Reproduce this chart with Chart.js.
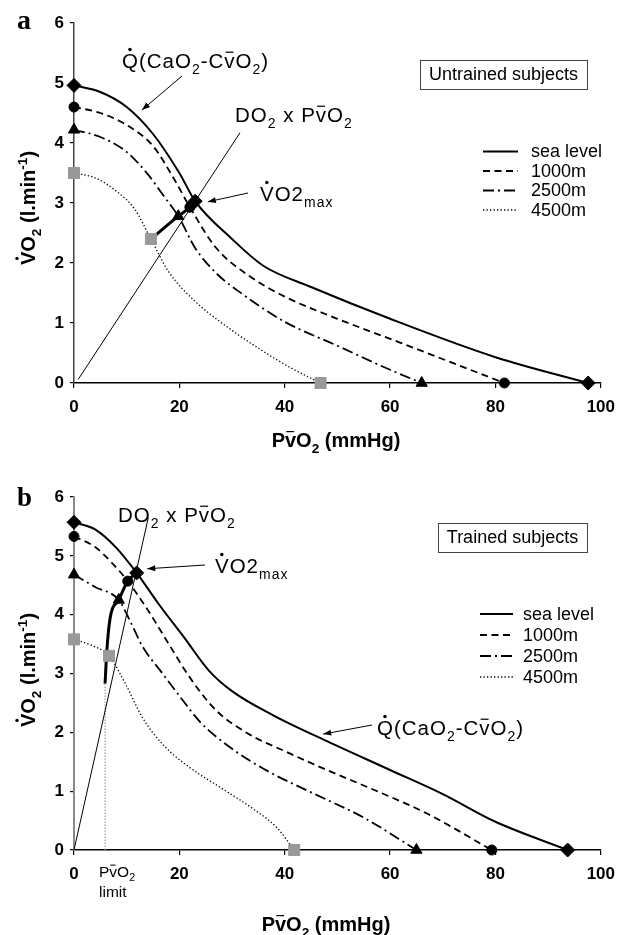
<!DOCTYPE html>
<html>
<head>
<meta charset="utf-8">
<script src="https://cdn.jsdelivr.net/npm/chart.js@4.4.1/dist/chart.umd.min.js"></script>
<style>
  html, body { margin: 0; padding: 0; background: #fff; }
  #wrap { position: relative; width: 624px; height: 935px; }
  canvas { position: absolute; left: 0; }
  #chartA { top: 0; }
  #chartB { top: 467px; }
</style>
</head>
<body>
<div id="wrap">
  <canvas id="chartA" width="624" height="467"></canvas>
  <canvas id="chartB" width="624" height="468"></canvas>
</div>
<script>
// ---- panel a : untrained subjects ----
const seaA_x = [0, 5, 10, 15, 20, 23, 30, 36, 45, 60, 80, 97.6];
const seaA_y = [4.96, 4.85, 4.6, 4.15, 3.5, 3.03, 2.4, 1.95, 1.6, 1.07, 0.43, 0];
const m1000A_x = [0, 5, 10, 15, 19, 22, 27, 33, 40, 50, 62, 72, 81.7];
const m1000A_y = [4.6, 4.5, 4.3, 3.95, 3.4, 2.93, 2.25, 1.8, 1.44, 1.07, 0.67, 0.33, 0];
const m2500A_x = [0, 5, 10, 14, 17, 19.8, 23, 27, 32, 40, 50, 60, 66];
const m2500A_y = [4.22, 4.1, 3.85, 3.48, 3.12, 2.78, 2.25, 1.83, 1.48, 1.02, 0.62, 0.22, 0];
const m4500A_x = [0, 4, 8, 11.5, 14.6, 18, 23, 29, 35, 41, 46.8];
const m4500A_y = [3.5, 3.42, 3.2, 2.9, 2.4, 1.85, 1.36, 0.94, 0.58, 0.26, 0];
// VO2max points (sea level, 1000m, 2500m, 4500m)
const maxA_x = [23, 22, 19.8, 14.6];
const maxA_y = [3.03, 2.93, 2.78, 2.4];
const do2A_x = [0.8, 31.5];
const do2A_y = [0.06, 4.17];

// ---- panel b : trained subjects ----
const seaB_x = [0, 4, 8, 11.9, 16, 21, 25.6, 30, 38, 48, 60, 70, 80, 93.7];
const seaB_y = [5.57, 5.45, 5.14, 4.71, 4.19, 3.6, 3.05, 2.7, 2.28, 1.85, 1.36, 0.95, 0.48, 0];
const m1000B_x = [0, 4, 7, 10.2, 14, 18, 22, 26.9, 33, 40, 48, 57, 67, 79.3];
const m1000B_y = [5.33, 5.15, 4.9, 4.57, 4.08, 3.5, 2.93, 2.38, 1.98, 1.68, 1.36, 1.02, 0.62, 0];
const m2500B_x = [0, 4, 8.5, 10.5, 13, 16.8, 20.6, 24, 30, 37, 45, 55, 65];
const m2500B_y = [4.68, 4.47, 4.25, 3.92, 3.46, 3.0, 2.55, 2.17, 1.72, 1.33, 0.98, 0.55, 0];
const m4500B_x = [0, 3.6, 6.65, 9.9, 13, 17, 22, 28, 34, 38.5, 41.8];
const m4500B_y = [3.58, 3.47, 3.3, 2.8, 2.25, 1.78, 1.4, 1.05, 0.7, 0.38, 0];
const maxB_x = [11.9, 10.2, 8.5, 6.65];
const maxB_y = [4.71, 4.57, 4.25, 3.3];
const locusB_x = [5.9, 6.2, 6.8, 8.5, 10.2, 11.9];
const locusB_y = [2.83, 3.34, 3.91, 4.25, 4.57, 4.71];
const do2B_x = [0, 14.1];
const do2B_y = [0, 5.65];
const limitB_x = [5.9, 5.9];
const limitB_y = [0, 2.83];

const legendLabels = ['sea level', '1000m', '2500m', '4500m'];
const xTicks = [0, 20, 40, 60, 80, 100];
const yTicks = [0, 1, 2, 3, 4, 5, 6];

const FONT = "'Liberation Sans', Arial, Helvetica, sans-serif";
const SERIF = "'Liberation Serif', 'Times New Roman', serif";

// line / marker look of each altitude
const STY = [
  { dash: [], width: 2, point: 'rectRot', r: 7, fill: '#000' },
  { dash: [7, 4.5], width: 1.8, point: 'circle', r: 5, fill: '#000' },
  { dash: [11, 4, 2, 4], width: 1.8, point: 'triangle', r: 6.5, fill: '#000' },
  { dash: [1.3, 2.2], width: 1.3, point: 'rect', r: 7.8, fill: '#999' },
];

function pts(xs, ys) {
  return xs.map((x, i) => ({ x, y: ys[i] }));
}

function richText(ctx, segs, x, y, size, weight, align, spacing) {
  const fontOf = (s) => `${weight} ${s}px ${FONT}`;
  const small = (m) => m === 'sub' || m === 'sup';
  ctx.letterSpacing = (spacing || 0) + 'px';
  const w = segs.map(([t, m]) => {
    ctx.font = fontOf(small(m) ? size * 0.68 : size);
    return ctx.measureText(t).width;
  });
  const total = w.reduce((a, b) => a + b, 0);
  let cx = align === 'center' ? x - total / 2 : (align === 'right' ? x - total : x);
  ctx.textAlign = 'left';
  ctx.textBaseline = 'alphabetic';
  ctx.fillStyle = '#000';
  segs.forEach(([t, m], i) => {
    ctx.font = fontOf(small(m) ? size * 0.68 : size);
    const dy = m === 'sub' ? size * 0.28 : (m === 'sup' ? -size * 0.38 : 0);
    ctx.fillText(t, cx, y + dy);
    if (m === 'dot') {
      ctx.beginPath();
      ctx.arc(cx + (w[i] - (spacing || 0)) / 2, y - size * 0.9, size * 0.085, 0, Math.PI * 2);
      ctx.fill();
    }
    if (m === 'bar') {
      ctx.fillRect(cx + w[i] * 0.12, y - size * 0.8, w[i] * 0.7, Math.max(1, size * 0.06));
    }
    cx += w[i];
  });
  ctx.letterSpacing = '0px';
}

function arrow(ctx, x1, y1, x2, y2) {
  ctx.save();
  ctx.setLineDash([]);
  ctx.strokeStyle = '#000';
  ctx.fillStyle = '#000';
  ctx.lineWidth = 1;
  ctx.beginPath();
  ctx.moveTo(x1, y1);
  ctx.lineTo(x2, y2);
  ctx.stroke();
  const a = Math.atan2(y2 - y1, x2 - x1), L = 8, W = 3;
  ctx.beginPath();
  ctx.moveTo(x2, y2);
  ctx.lineTo(x2 - L * Math.cos(a) + W * Math.sin(a), y2 - L * Math.sin(a) - W * Math.cos(a));
  ctx.lineTo(x2 - L * Math.cos(a) - W * Math.sin(a), y2 - L * Math.sin(a) + W * Math.cos(a));
  ctx.closePath();
  ctx.fill();
  ctx.restore();
}

const Q_LABEL = [['Q', 'dot'], ['(CaO', ''], ['2', 'sub'], ['-C', ''], ['v', 'bar'], ['O', ''], ['2', 'sub'], [')', '']];
const DO2_LABEL = [['DO', ''], ['2', 'sub'], [' x P', ''], ['v', 'bar'], ['O', ''], ['2', 'sub']];
const VMAX_LABEL = [['V', 'dot'], ['O2', ''], ['max', 'sub']];
const Y_TITLE = [['V', 'dot'], ['O', ''], ['2', 'sub'], [' (l.min', ''], ['-1', 'sup'], [')', '']];
const X_TITLE = [['P', ''], ['v', 'bar'], ['O', ''], ['2', 'sub'], [' (mmHg)', '']];

function annotPlugin(p) {
  return {
    id: 'annot' + p.letter,
    afterDraw(chart) {
      const ctx = chart.ctx;
      const xs = chart.scales.x, ys = chart.scales.y;
      ctx.save();
      ctx.translate(0, -p.top); // page coordinates
      // panel letter
      ctx.fillStyle = '#000';
      ctx.font = `bold ${p.letterSize}px ${SERIF}`;
      ctx.textAlign = 'left';
      ctx.textBaseline = 'alphabetic';
      ctx.fillText(p.letter, p.letterPos[0], p.letterPos[1]);
      // axis titles
      richText(ctx, X_TITLE, p.xTitle[0], p.xTitle[1], 20, 'bold', 'center');
      ctx.save();
      ctx.translate(p.yTitle[0], p.yTitle[1]);
      ctx.rotate(-Math.PI / 2);
      richText(ctx, Y_TITLE, 0, 7, 20, 'bold', 'center');
      ctx.restore();
      // text labels and arrows
      richText(ctx, Q_LABEL, p.qPos[0], p.qPos[1], 20.5, 'normal', 'left', 1);
      richText(ctx, DO2_LABEL, p.doPos[0], p.doPos[1], 20.5, 'normal', 'left', 1);
      richText(ctx, VMAX_LABEL, p.vPos[0], p.vPos[1], 20.5, 'normal', 'left', 1);
      arrow(ctx, p.qTail[0], p.qTail[1], xs.getPixelForValue(p.qTip[0]), ys.getPixelForValue(p.qTip[1]) + p.top);
      arrow(ctx, p.vTail[0], p.vTail[1], xs.getPixelForValue(p.vTip[0]), ys.getPixelForValue(p.vTip[1]) + p.top);
      // subjects box
      ctx.strokeStyle = '#444';
      ctx.lineWidth = 1;
      ctx.setLineDash([]);
      ctx.strokeRect(p.box[0] + 0.5, p.box[1] + 0.5, p.box[2], p.box[3]);
      ctx.font = `18px ${FONT}`;
      ctx.fillStyle = '#000';
      ctx.textAlign = 'center';
      ctx.textBaseline = 'middle';
      ctx.fillText(p.boxText, p.box[0] + p.box[2] / 2, p.box[1] + p.box[3] / 2 + 1);
      // legend
      legendLabels.forEach((lab, i) => {
        const y = p.leg.y + i * p.leg.dy;
        ctx.beginPath();
        ctx.setLineDash(STY[i].dash);
        ctx.lineWidth = STY[i].width;
        ctx.strokeStyle = '#000';
        ctx.moveTo(p.leg.x1, y);
        ctx.lineTo(p.leg.x2, y);
        ctx.stroke();
        ctx.setLineDash([]);
        ctx.font = `18px ${FONT}`;
        ctx.textAlign = 'left';
        ctx.textBaseline = 'middle';
        ctx.fillText(lab, p.leg.tx, y + 1);
      });
      if (p.limit) {
        richText(ctx, [['P', ''], ['v', 'bar'], ['O', ''], ['2', 'sub']], p.limit[0], p.limit[1], 15.5, 'normal', 'left');
        ctx.font = `15.5px ${FONT}`;
        ctx.textAlign = 'left';
        ctx.textBaseline = 'alphabetic';
        ctx.fillText('limit', p.limit[0], p.limit[1] + 20);
      }
      ctx.restore();
    },
  };
}

function makeChart(p, series, maxX, maxY, locX, locY, doX, doY, extra) {
  const datasets = [];
  // markers: start, VO2max and end of each curve
  series.forEach((s, i) => {
    datasets.push({
      data: [{ x: s.x[0], y: s.y[0] }, { x: maxX[i], y: maxY[i] }, { x: s.x[s.x.length - 1], y: s.y[s.y.length - 1] }],
      showLine: false, pointStyle: STY[i].point, pointRadius: STY[i].r,
      backgroundColor: STY[i].fill, borderColor: STY[i].fill, borderWidth: 1, clip: false,
    });
  });
  datasets.push({
    data: pts(locX, locY), showLine: true, pointRadius: 0, borderColor: '#000', borderWidth: 3,
    cubicInterpolationMode: 'monotone', clip: false,
  });
  series.forEach((s, i) => {
    datasets.push({
      data: pts(s.x, s.y), showLine: true, pointRadius: 0, borderColor: '#000',
      borderWidth: STY[i].width, borderDash: STY[i].dash, cubicInterpolationMode: 'monotone', clip: false,
    });
  });
  datasets.push({
    data: pts(doX, doY), showLine: true, pointRadius: 0, borderColor: '#000', borderWidth: 1, tension: 0, clip: false,
  });
  if (extra) datasets.push(extra);

  const tickFont = { family: FONT, size: 17, weight: 'bold' };
  return new Chart(document.getElementById(p.canvas), {
    type: 'scatter',
    data: { datasets },
    options: {
      responsive: false,
      animation: false,
      events: [],
      layout: { padding: { left: 0, top: p.padTop, right: p.padRight, bottom: 0 } },
      plugins: { legend: { display: false }, tooltip: { enabled: false } },
      scales: {
        x: {
          type: 'linear', min: 0, max: 100,
          afterFit: (s) => { s.height = p.xAxisH; },
          afterBuildTicks: (s) => { s.ticks = xTicks.map((v) => ({ value: v })); },
          ticks: { color: '#000', font: tickFont, padding: 9, maxRotation: 0 },
          grid: { drawOnChartArea: false, drawTicks: true, tickLength: 5, color: '#000', lineWidth: 1.2 },
          border: { color: '#000', width: 1.5 },
        },
        y: {
          type: 'linear', min: 0, max: 6,
          afterFit: (s) => { s.width = 74; },
          afterBuildTicks: (s) => { s.ticks = yTicks.map((v) => ({ value: v })); },
          ticks: { color: '#000', font: tickFont, padding: 6 },
          grid: { drawOnChartArea: false, drawTicks: true, tickLength: 4, color: '#000', lineWidth: 1.2 },
          border: { color: p.yAxisColor, width: p.yAxisW },
        },
      },
    },
    plugins: [annotPlugin(p)],
  });
}

const panelA = {
  canvas: 'chartA', top: 0, padTop: 23, padRight: 23, xAxisH: 84,
  yAxisColor: '#444', yAxisW: 1.5,
  letter: 'a', letterSize: 28, letterPos: [17, 29],
  xTitle: [336, 447], yTitle: [28, 208],
  qPos: [122, 68], qTail: [182, 76], qTip: [12.9, 4.55],
  doPos: [235, 122],
  vPos: [260, 201], vTail: [248, 193], vTip: [25.4, 3.02],
  box: [420, 60, 167, 29], boxText: 'Untrained subjects',
  leg: { x1: 483, x2: 518, tx: 531, y: 151.5, dy: 19.5 },
};

const panelB = {
  canvas: 'chartB', top: 467, padTop: 30, padRight: 18, xAxisH: 85,
  yAxisColor: '#8a8a8a', yAxisW: 2,
  letter: 'b', letterSize: 27, letterPos: [17, 506],
  xTitle: [326, 931], yTitle: [28, 670],
  qPos: [377, 735], qTail: [372, 725], qTip: [47.3, 1.97],
  doPos: [118, 522],
  vPos: [215, 573], vTail: [205, 565], vTip: [13.9, 4.78],
  box: [438, 523, 149, 29], boxText: 'Trained subjects',
  leg: { x1: 480, x2: 513, tx: 523, y: 614, dy: 21 },
  limit: [99, 877],
};

makeChart(panelA,
  [{ x: seaA_x, y: seaA_y }, { x: m1000A_x, y: m1000A_y }, { x: m2500A_x, y: m2500A_y }, { x: m4500A_x, y: m4500A_y }],
  maxA_x, maxA_y, maxA_x.slice().reverse(), maxA_y.slice().reverse(), do2A_x, do2A_y, null);

makeChart(panelB,
  [{ x: seaB_x, y: seaB_y }, { x: m1000B_x, y: m1000B_y }, { x: m2500B_x, y: m2500B_y }, { x: m4500B_x, y: m4500B_y }],
  maxB_x, maxB_y, locusB_x, locusB_y, do2B_x, do2B_y,
  { data: pts(limitB_x, limitB_y), showLine: true, pointRadius: 0, borderColor: '#999', borderWidth: 1.2, borderDash: [1.5, 1.5], clip: false });
</script>
</body>
</html>
